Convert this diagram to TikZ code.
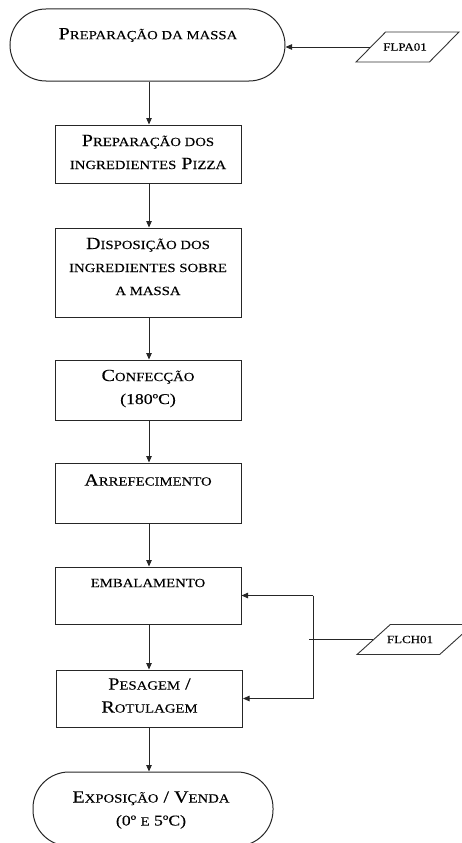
\documentclass[tikz,border=0pt]{standalone}
\usepackage{fontspec}
\setmainfont[FakeStretch=1.18,FakeBold=0.2]{Liberation Serif}
\usetikzlibrary{shapes.geometric,arrows.meta}
% fake small caps: capitals at the reduced size
\newcommand{\smc}[1]{{\fontsize{12.5}{14}\selectfont #1}}
\newcommand{\midc}[1]{{\fontsize{15}{16}\selectfont #1}}
\newcommand{\bigc}{\fontsize{17}{23}\selectfont}
\tikzset{
  stepbox/.style={draw=black!85, line width=1pt, rectangle, minimum width=186pt},
  termbox/.style={draw=black!85, line width=1pt, rectangle, rounded corners=36pt},
  datain/.style={draw=black!80, line width=0.9pt, trapezium, trapezium left angle=56,
    trapezium right angle=124, trapezium stretches=true, minimum height=30pt},
  lbl/.style={align=center, inner sep=0pt, font=\bigc},
  tag/.style={inner sep=0pt, font=\fontsize{11}{12}\selectfont},
  arr/.style={draw=black!85, line width=0.8pt, -{Triangle[length=6.5pt,width=5.5pt]}},
  wire/.style={draw=black!85, line width=0.8pt}
}
\begin{document}
\begin{tikzpicture}[x=1pt,y=-1pt]
\useasboundingbox (0,0) rectangle (462,843);
\clip (0,0) rectangle (462,843);

% process shapes
\node[termbox, minimum width=275pt, minimum height=72pt] (T) at (147.5,45) {};
\node[stepbox, minimum height=58pt] (B1) at (148,154) {};
\node[stepbox, minimum height=89pt] (B2) at (148,272.5) {};
\node[stepbox, minimum height=60pt] (B3) at (148,390) {};
\node[stepbox, minimum height=60pt] (B4) at (148,493) {};
\node[stepbox, minimum height=57pt] (B5) at (148,595.5) {};
\node[stepbox, minimum height=57pt] (B6) at (149.5,698.5) {};
\node[termbox, minimum width=240pt, minimum height=74pt] (E) at (153,809) {};

% labels
\node[lbl] (tT) at (148,35) {P\smc{REPARAÇÃO DA MASSA}};
\node[lbl] (t1) at (148,152) {P\smc{REPARAÇÃO DOS}\\\smc{INGREDIENTES} P\smc{IZZA}};
\node[lbl] (t2) at (148,266.5) {D\smc{ISPOSIÇÃO DOS}\\\smc{INGREDIENTES SOBRE}\\\smc{A MASSA}};
\node[lbl] (t3) at (148,388.5) {C\smc{ONFECÇÃO}\\\midc{(180ºC)}};
\node[lbl] (t4) at (148,480) {A\smc{RREFECIMENTO}};
\node[lbl] (t5) at (148,583) {\smc{EMBALAMENTO}};
\node[lbl] (t6) at (149.5,695.5) {P\smc{ESAGEM} /\\R\smc{OTULAGEM}};
\node[lbl] (tE) at (151,810) {E\smc{XPOSIÇÃO} / V\smc{ENDA}\\\midc{(0º \smc{E} 5ºC)}};

% external inputs
\node[datain, minimum width=103pt] (flpa) at (407.5,47) {};
\node[tag] (tflpa) at (405,47) {FLPA01};
\node[datain, minimum width=116pt] (flch) at (415,639.5) {};
\node[tag] (tflch) at (410,639.5) {FLCH01};

% main flow
\draw[arr] (T.south -| 149,0) -- (B1.north -| 149,0);
\draw[arr] (B1.south -| 149,0) -- (B2.north -| 149,0);
\draw[arr] (B2.south -| 149,0) -- (B3.north -| 149,0);
\draw[arr] (B3.south -| 149,0) -- (B4.north -| 149,0);
\draw[arr] (B4.south -| 149,0) -- (B5.north -| 149,0);
\draw[arr] (B5.south -| 149,0) -- (B6.north -| 149,0);
\draw[arr] (B6.south -| 149,0) -- (E.north -| 149,0);

% inputs feeding the flow
\draw[arr] (flpa.west) -- (T.east |- flpa.west);
\coordinate (bus) at (313,639.5);
\coordinate (tick) at (309,639.5);
\draw[wire] (flch.west) -- (tick);
\draw[wire] (B5.east -| bus) -- (B6.east -| bus);
\draw[arr] (B5.east -| bus) -- (B5.east);
\draw[arr] (B6.east -| bus) -- (B6.east);
\end{tikzpicture}
\end{document}
